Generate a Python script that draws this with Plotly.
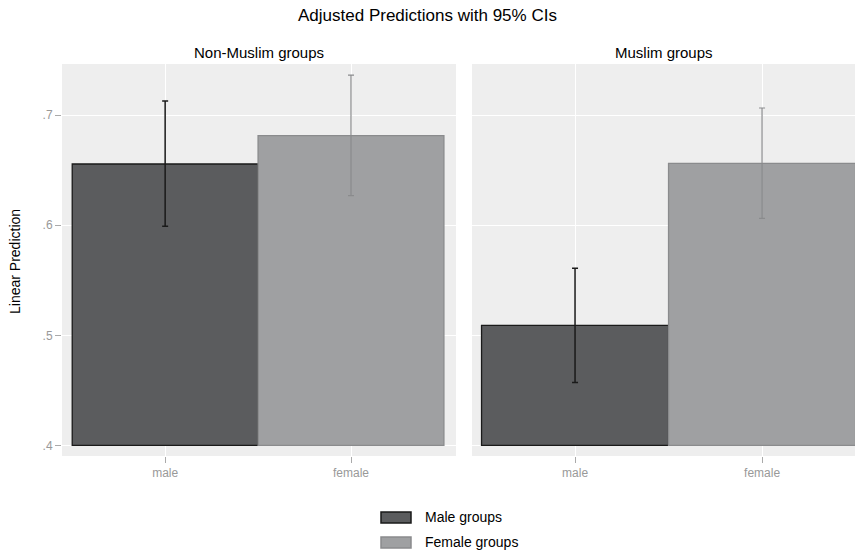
import plotly.graph_objects as go

# Data
panels = ["Non-Muslim groups", "Muslim groups"]
categories = ["male", "female"]
male_pred = [0.6557, 0.5090]
male_lo = [0.5991, 0.4570]
male_hi = [0.7130, 0.5610]
female_pred = [0.6815, 0.6563]
female_lo = [0.6270, 0.6062]
female_hi = [0.7364, 0.7066]
bar_base = 0.4
yticks = [0.4, 0.5, 0.6, 0.7]
yticklabels = [".4", ".5", ".6", ".7"]

W, H = 855, 554
FONT = "Liberation Sans Narrow, Liberation Sans, Arial, sans-serif"

male_fill = "#5b5c5e"
male_line = "#1a1a1a"
fem_fill = "#9fa0a2"
fem_line = "#8a8b8d"

fig = go.Figure()
for i in range(2):
    xa = "x" if i == 0 else "x2"
    ya = "y" if i == 0 else "y2"
    fig.add_trace(go.Bar(
        x=[categories[0]], y=[male_pred[i] - bar_base], base=bar_base, width=[1.0],
        marker=dict(color=male_fill, line=dict(color=male_line, width=1.3)),
        error_y=dict(type="data", symmetric=False,
                     array=[male_hi[i] - male_pred[i]],
                     arrayminus=[male_pred[i] - male_lo[i]],
                     color="#1a1a1a", thickness=1.5, width=3),
        name="Male groups", showlegend=False, xaxis=xa, yaxis=ya))
    fig.add_trace(go.Bar(
        x=[categories[1]], y=[female_pred[i] - bar_base], base=bar_base, width=[1.0],
        marker=dict(color=fem_fill, line=dict(color=fem_line, width=1.3)),
        error_y=dict(type="data", symmetric=False,
                     array=[female_hi[i] - female_pred[i]],
                     arrayminus=[female_pred[i] - female_lo[i]],
                     color="#8a8b8d", thickness=1.2, width=3),
        name="Female groups", showlegend=False, xaxis=xa, yaxis=ya))

ytop = 64
ybot = 456
ydom = [(H - ybot) / H, (H - ytop) / H]
yrange = [0.3903, 0.7466]

common_x = dict(type="category", categoryorder="array", categoryarray=categories,
                showgrid=True, gridcolor="white", gridwidth=1,
                ticks="outside", ticklen=6, tickcolor="#aaaaaa", tickwidth=1,
                tickfont=dict(family=FONT, size=12, color="#999999"),
                showline=False, zeroline=False, fixedrange=True)
common_y = dict(range=yrange, domain=ydom, tickvals=yticks, ticktext=yticklabels,
                showgrid=True, gridcolor="white", gridwidth=1,
                zeroline=False, showline=False, fixedrange=True)

fig.update_layout(
    width=W, height=H,
    margin=dict(l=0, r=0, t=0, b=0),
    paper_bgcolor="white", plot_bgcolor="#eeeeee",
    barmode="overlay",
    showlegend=False,
    font=dict(family=FONT),
    xaxis=dict(domain=[62 / W, 456 / W], range=[-0.555, 1.565], anchor="y", **common_x),
    xaxis2=dict(domain=[472 / W, 1.0], range=[-0.551, 1.497], anchor="y2", **common_x),
    yaxis=dict(anchor="x", ticks="outside", ticklen=6, tickcolor="#aaaaaa",
               tickfont=dict(family=FONT, size=12, color="#999999"), **common_y),
    yaxis2=dict(anchor="x2", showticklabels=False, ticks="", matches="y", **common_y),
)

annotations = [
    dict(text="Adjusted Predictions with 95% CIs", x=0.5, y=1 - 15 / H,
         xref="paper", yref="paper", showarrow=False,
         font=dict(family=FONT, size=17, color="black"), xanchor="center", yanchor="middle"),
    dict(text=panels[0], x=(62 + 456) / 2 / W, y=1 - 52 / H, xref="paper", yref="paper",
         showarrow=False, font=dict(family=FONT, size=15, color="black"),
         xanchor="center", yanchor="middle"),
    dict(text=panels[1], x=(472 + 855) / 2 / W, y=1 - 52 / H, xref="paper", yref="paper",
         showarrow=False, font=dict(family=FONT, size=15, color="black"),
         xanchor="center", yanchor="middle"),
    dict(text="Linear Prediction", x=15 / W, y=1 - 262 / H, xref="paper", yref="paper",
         showarrow=False, textangle=-90, font=dict(family=FONT, size=14, color="black"),
         xanchor="center", yanchor="middle"),
    dict(text="Male groups", x=423 / W, y=1 - 517 / H, xref="paper", yref="paper",
         showarrow=False, font=dict(family=FONT, size=14, color="black"),
         xanchor="left", yanchor="middle"),
    dict(text="Female groups", x=423 / W, y=1 - 542 / H, xref="paper", yref="paper",
         showarrow=False, font=dict(family=FONT, size=14, color="black"),
         xanchor="left", yanchor="middle"),
]
shapes = [
    dict(type="rect", xref="paper", yref="paper", x0=381 / W, x1=411 / W,
         y0=1 - 523 / H, y1=1 - 512 / H, fillcolor=male_fill,
         line=dict(color=male_line, width=1.5)),
    dict(type="rect", xref="paper", yref="paper", x0=381 / W, x1=411 / W,
         y0=1 - 548 / H, y1=1 - 537 / H, fillcolor=fem_fill,
         line=dict(color=fem_line, width=1.5)),
]
fig.update_layout(annotations=annotations, shapes=shapes)

fig.write_html("out.html",
               config={"displayModeBar": False},
               post_script="document.body.style.margin='0';document.body.style.padding='0';"
                           "document.body.style.overflow='hidden';")
